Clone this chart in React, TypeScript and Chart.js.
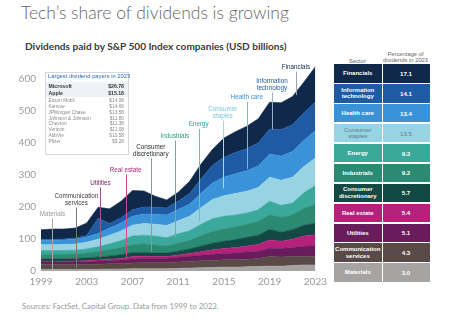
import React, { useEffect, useRef } from 'react';
import { Chart, registerables } from 'chart.js';
Chart.register(...registerables);

const years = ['1999','2000','2001','2002','2003','2004','2005','2006','2007','2008','2009','2010','2011','2012','2013','2014','2015','2016','2017','2018','2019','2020','2021','2022','2023'];

// Series (USD billions), bottom of stack first
const materials = [5,5,5,5,5,5,6,6,7,7,7,7,8,9,10,11,12,12,13,14,15,15,17,19,19];
const communication = [15,15,15,15,15,16,17,17,18,19,19,19,20,21,22,22,23,23,24,25,30,29,28,27,27];
const utilities = [8,8,8,8,9,10,10,11,13,14,14,14,15,16,17,19,20,21,22,23,26,26,28,31,33];
const realEstate = [2,2,2,3,3,3,4,5,7,6,5,5,7,9,11,14,15,17,19,21,26,23,26,32,34];
const consumerDisc = [8,8,8,8,9,10,10,12,13,12,11,11,12,14,18,21,23,25,27,29,33,28,30,34,36];
const industrials = [14,14,14,14,15,17,20,22,25,26,25,23,25,27,33,36,38,40,41,43,46,47,47,53,59];
const energy = [12,12,12,12,13,15,18,22,26,28,28,25,29,30,35,40,40,37,35,36,42,37,36,48,59];
const staples = [18,18,19,19,21,23,27,30,34,36,37,38,41,45,52,60,64,67,68,70,75,78,81,82,86];
const healthCare = [14,14,14,15,16,18,22,25,28,30,31,33,35,38,45,52,58,62,64,67,72,76,80,82,85];
const infoTech = [3,3,3,4,5,48,14,16,20,22,22,22,26,33,45,55,62,66,69,72,78,82,84,86,90];
const financials = [30,32,31,31,39,34,46,52,60,50,34,25,28,38,46,50,60,65,70,75,84,84,88,96,110];

const stackNames = ['Materials','Communication services','Utilities','Real estate','Consumer discretionary','Industrials','Energy','Consumer staples','Health care','Information technology','Financials'];
const stackSeries = [materials, communication, utilities, realEstate, consumerDisc, industrials, energy, staples, healthCare, infoTech, financials];
const stackColors = ['#a6a4a3','#5a4a47','#6a1b5b','#b6217b','#124a43','#2a8b72','#3aa99c','#98d3e3','#3a92d8','#1f5ba5','#10294a'];

// Right-hand table
const tableLabels = ['Financials','Information\ntechnology','Health care','Consumer\nstaples','Energy','Industrials','Consumer\ndiscretionary','Real estate','Utilities','Communication\nservices','Materials'];
const tableShares = ['17.1','14.1','13.4','13.5','9.3','9.2','5.7','5.4','5.1','4.3','3.0'];
const tableColors = ['#10294a','#1f5ba5','#3a92d8','#98d3e3','#3aa99c','#2a8b72','#124a43','#b6217b','#6a1b5b','#5a4a47','#a6a4a3'];
const tableTextColors = ['#fff','#fff','#fff','#5a7d8c','#fff','#fff','#fff','#fff','#fff','#fff','#fff'];

// Inset table
const payerNames = ['Microsoft','Apple','Exxon Mobil','Kenvue','JPMorgan Chase','Johnson & Johnson','Chevron','Verizon','AbbVie','Pfizer'];
const payerValues = ['$26.78','$15.18','$14.98','$14.66','$13.58','$11.80','$11.38','$11.08','$10.58','$9.28'];

// Annotations on the chart
const annoTexts = ['Materials','Communication\nservices','Utilities','Real estate','Consumer\ndiscretionary','Industrials','Energy','Consumer\nstaples','Health care','Information\ntechnology','Financials'];
const annoYears = [2000.0, 2002.1, 2004.2, 2006.4, 2008.6, 2010.7, 2012.8, 2014.9, 2017.0, 2019.2, 2021.3];
const annoTextValues = [178, 222, 275, 315, 376, 421, 457, 494, 541, 582, 636];
const annoLineEnds = [3, 3, 40, 43, 60, 105, 156, 258, 319, 442, 549];
const annoColors = ['#9a9a9a','#4a4040','#6a1b5b','#b6217b','#2a2f2f','#2a9a80','#2aa5a0','#7cc8dc','#3a92d8','#1f5ba5','#10294a'];
const annoLineColors = ['#aaaaaa','#777777','#9a5a8a','#c0508a','#8a9a98','#6ab0a0','#6ac0b8','#a8dae6','#7ab4e0','#9ab0c8','#9aa4b0'];

const yMax = 640;
const yStep = 100;

const annoPlugin = {
  id: 'annoPlugin',
  afterDatasetsDraw(chart: any) {
    const { ctx } = chart;
    const x = chart.scales.x;
    const y = chart.scales.y;
    ctx.save();
    ctx.font = '6.3px "Liberation Sans", Arial, sans-serif';
    ctx.textAlign = 'center';
    ctx.textBaseline = 'middle';
    const lh = 6.8;
    annoTexts.forEach((t, i) => {
      const px = x.getPixelForValue(annoYears[i] - 1999);
      const py = y.getPixelForValue(annoTextValues[i]);
      const lines = t.split('\n');
      ctx.fillStyle = annoColors[i];
      lines.forEach((ln, j) => {
        ctx.fillText(ln, px, py + (j - (lines.length - 1) / 2) * lh);
      });
      const top = py + (lines.length * lh) / 2 + 1;
      const bottom = y.getPixelForValue(annoLineEnds[i]);
      ctx.strokeStyle = annoLineColors[i];
      ctx.lineWidth = 1;
      ctx.beginPath();
      const lx = Math.round(px) + 0.5;
      ctx.moveTo(lx, top);
      ctx.lineTo(lx, bottom);
      ctx.stroke();
    });
    ctx.restore();
  },
};

function StackChart() {
  const ref = useRef<HTMLCanvasElement | null>(null);
  useEffect(() => {
    if (!ref.current) return;
    const chart = new Chart(ref.current, {
      type: 'line',
      data: {
        labels: years,
        datasets: stackSeries.map((vals, i) => ({
          label: stackNames[i],
          data: vals,
          backgroundColor: stackColors[i],
          borderColor: stackColors[i],
          borderWidth: 0.6,
          pointRadius: 0,
          fill: i === 0 ? 'origin' : '-1',
          tension: 0,
        })),
      },
      options: {
        responsive: false,
        animation: false,
        layout: { padding: { top: 7, right: 14, bottom: 0, left: 0 } },
        plugins: { legend: { display: false }, tooltip: { enabled: false } },
        scales: {
          x: {
            type: 'category',
            offset: false,
            grid: { display: false, drawTicks: false },
            border: { display: false },
            ticks: {
              autoSkip: false,
              maxRotation: 0,
              padding: 5,
              color: '#999',
              font: { family: 'Lato, "Open Sans", sans-serif', size: 10 },
              callback: (_v: any, idx: number) => (idx % 4 === 0 ? years[idx] : null),
            },
            afterFit: (s: any) => { s.height = 29; },
          },
          y: {
            stacked: true,
            min: 0,
            max: yMax,
            grid: { display: false, drawTicks: false },
            border: { display: false },
            ticks: {
              stepSize: yStep,
              includeBounds: false,
              padding: 5,
              color: '#999',
              font: { family: 'Lato, "Open Sans", sans-serif', size: 10 },
            },
            afterFit: (s: any) => { s.width = 41; },
          },
        },
      },
      plugins: [annoPlugin],
    } as any);
    return () => chart.destroy();
  }, []);
  return <canvas ref={ref} width={332} height={245} style={{ position: 'absolute', left: 0, top: 55, width: 332, height: 245 }} />;
}

export default function App() {
  const rowPitch = 19.94;
  return (
    <div style={{ position: 'absolute', left: 0, top: 0, width: 452, height: 323, background: '#fff', overflow: 'hidden', fontFamily: '"Liberation Sans", Arial, sans-serif' }}>
      <div style={{ position: 'absolute', left: 21, top: 2, fontFamily: 'Lato, "Open Sans", sans-serif', fontWeight: 300, fontSize: 17.5, lineHeight: '22px', color: '#666', whiteSpace: 'nowrap' }}>
        Tech’s share of dividends is growing
      </div>
      <div style={{ position: 'absolute', left: 25, top: 40, fontFamily: 'Lato, "Open Sans", sans-serif', fontWeight: 700, fontSize: 10.1, lineHeight: '12px', color: '#3a3a3a', whiteSpace: 'nowrap' }}>
        Dividends paid by S&amp;P 500 Index companies (USD billions)
      </div>

      <StackChart />

      {/* Inset: largest payers */}
      <div style={{ position: 'absolute', left: 45, top: 72, width: 84, height: 83, border: '1px solid #d4d8dc', background: '#fff', boxSizing: 'border-box' }} />
      <div style={{ position: 'absolute', left: 48, top: 72.5, fontSize: 5.8, lineHeight: '6px', color: '#2a6ab0', whiteSpace: 'nowrap' }}>
        Largest dividend payers in 2023
      </div>
      <div style={{ position: 'absolute', left: 46, top: 81.5, width: 82, height: 15, background: '#eef2f6' }} />
      {payerNames.map((n, i) => {
        const top = i < 2 ? 82.5 + i * 7.3 : 98 + (i - 2) * 5.85;
        const bold = i < 2;
        return (
          <React.Fragment key={n}>
            <div style={{ position: 'absolute', left: 48.5, top, fontSize: bold ? 5.2 : 4.8, lineHeight: '6px', fontWeight: bold ? 700 : 400, color: bold ? '#333' : '#8a8a8a', whiteSpace: 'nowrap' }}>{n}</div>
            <div style={{ position: 'absolute', right: 452 - 124, top, fontSize: bold ? 5.2 : 4.8, lineHeight: '6px', fontWeight: bold ? 700 : 400, color: bold ? '#333' : '#8a8a8a', whiteSpace: 'nowrap', textAlign: 'right' }}>{payerValues[i]}</div>
          </React.Fragment>
        );
      })}

      {/* Right table */}
      <div style={{ position: 'absolute', left: 334, top: 58, width: 47, textAlign: 'center', fontSize: 5.8, lineHeight: '6px', color: '#666' }}>Sector</div>
      <div style={{ position: 'absolute', left: 380, top: 50.5, width: 51, textAlign: 'center', fontSize: 5.8, lineHeight: '6px', color: '#666' }}>Percentage of<br />dividends in 2023</div>
      {tableLabels.map((lab, i) => {
        const top = 64 + i * rowPitch;
        return (
          <React.Fragment key={lab}>
            <div style={{ position: 'absolute', left: 334, top, width: 47.5, height: 18.6, background: tableColors[i], color: tableTextColors[i], display: 'flex', alignItems: 'center', justifyContent: 'center', textAlign: 'center', whiteSpace: 'pre-line', fontSize: 6, lineHeight: '6.6px', fontWeight: i === 3 ? 400 : 700 }}>{lab}</div>
            <div style={{ position: 'absolute', left: 382.5, top, width: 47, height: 18.6, background: tableColors[i], color: tableTextColors[i], display: 'flex', alignItems: 'center', justifyContent: 'center', fontSize: 6.2, fontWeight: i === 3 ? 400 : 700 }}>{tableShares[i]}</div>
          </React.Fragment>
        );
      })}

      <div style={{ position: 'absolute', left: 22, top: 302, fontFamily: 'Lato, "Open Sans", sans-serif', fontSize: 7.8, lineHeight: '9px', color: '#999', whiteSpace: 'nowrap' }}>
        Sources: FactSet, Capital Group. Data from 1999 to 2023.
      </div>
    </div>
  );
}
